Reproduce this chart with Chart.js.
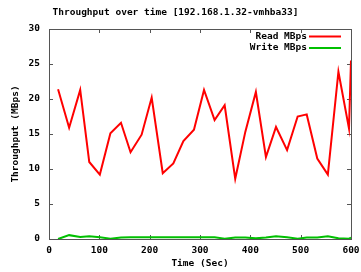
<!DOCTYPE html>
<html>
<head>
<meta charset="utf-8">
<script src="https://cdn.jsdelivr.net/npm/chart.js@4/dist/chart.umd.min.js"></script>
<style>
  html, body { margin: 0; padding: 0; background: #fff; }
  #wrap { width: 361px; height: 272px; }
</style>
</head>
<body>
<div id="wrap"><canvas id="tputChart"></canvas></div>
<script>
// sample times (sec) and throughput values
const times = [18, 40, 62, 80, 101, 122, 143, 162, 184, 204, 226, 247, 267, 288, 308,
               329, 349, 370, 390, 411, 431, 451, 473, 494, 512, 533, 554, 575, 596, 600];
const readMBps = [21.4, 15.9, 21.3, 11.0, 9.2, 15.1, 16.6, 12.4, 14.9, 20.2, 9.4, 10.8, 14.0, 15.6, 21.3,
                  17.0, 19.1, 8.6, 15.3, 21.0, 11.7, 16.0, 12.7, 17.5, 17.8, 11.5, 9.2, 23.9, 15.8, 25.5];
const writeMBps = [0.0, 0.55, 0.3, 0.4, 0.25, 0.05, 0.2, 0.25, 0.25, 0.25, 0.25, 0.25, 0.25, 0.25, 0.25,
                   0.25, 0.05, 0.2, 0.2, 0.1, 0.2, 0.4, 0.25, 0.05, 0.2, 0.2, 0.4, 0.1, 0.05, 0.2];
const seriesNames = ['Read MBps', 'Write MBps'];
const seriesColors = ['#ff0000', '#00c000'];

const FONT = { family: '"DejaVu Sans Mono", monospace', size: 9.5, weight: 'bold', lineHeight: 1.2 };

function toXY(xs, ys) {
    return xs.map((x, i) => ({ x: x, y: ys[i] }));
}

// gnuplot style frame with inward, mirrored ticks
const framePlugin = {
    id: 'frame',
    beforeDatasetsDraw(chart) {
        const { ctx, chartArea: a, scales } = chart;
        ctx.save();
        ctx.strokeStyle = '#555';
        ctx.lineWidth = 1;
        ctx.strokeRect(a.left + 0.5, a.top + 0.5, a.right - a.left, a.bottom - a.top);
        ctx.beginPath();
        scales.x.ticks.forEach(t => {
            const px = Math.round(scales.x.getPixelForValue(t.value)) + 0.5;
            ctx.moveTo(px, a.bottom); ctx.lineTo(px, a.bottom - 4);
            ctx.moveTo(px, a.top); ctx.lineTo(px, a.top + 4);
        });
        scales.y.ticks.forEach(t => {
            const py = Math.round(scales.y.getPixelForValue(t.value)) + 0.5;
            ctx.moveTo(a.left, py); ctx.lineTo(a.left + 4, py);
            ctx.moveTo(a.right, py); ctx.lineTo(a.right - 4, py);
        });
        ctx.stroke();
        ctx.restore();
    }
};

// key in the top right corner: text first, line sample after it
const keyPlugin = {
    id: 'key',
    afterDraw(chart) {
        const { ctx, chartArea: a } = chart;
        ctx.save();
        ctx.font = 'bold 9.5px "DejaVu Sans Mono", monospace';
        ctx.textAlign = 'right';
        ctx.textBaseline = 'middle';
        chart.data.datasets.forEach((ds, i) => {
            const y = a.top + 7.5 + i * 11.5;
            ctx.fillStyle = '#000';
            ctx.fillText(ds.label, a.right - 44, y);
            ctx.strokeStyle = ds.borderColor;
            ctx.lineWidth = 2;
            ctx.beginPath();
            ctx.moveTo(a.right - 42, y);
            ctx.lineTo(a.right - 10, y);
            ctx.stroke();
        });
        ctx.restore();
    }
};

new Chart(document.getElementById('tputChart'), {
    type: 'line',
    data: {
        datasets: [{
            label: seriesNames[0],
            data: toXY(times, readMBps),
            borderColor: seriesColors[0],
            borderWidth: 2,
            pointRadius: 0,
            tension: 0,
            fill: false
        }, {
            label: seriesNames[1],
            data: toXY(times, writeMBps),
            borderColor: seriesColors[1],
            borderWidth: 2,
            pointRadius: 0,
            tension: 0,
            fill: false
        }]
    },
    options: {
        responsive: true,
        maintainAspectRatio: false,
        animation: false,
        layout: { padding: { right: 10 } },
        plugins: {
            legend: { display: false },
            tooltip: { enabled: false },
            title: {
                display: true,
                text: 'Throughput over time [192.168.1.32-vmhba33]',
                color: '#000',
                font: FONT,
                padding: { top: 7, bottom: 10.6 }
            }
        },
        scales: {
            x: {
                type: 'linear',
                min: 0,
                max: 600,
                grid: { display: false, drawTicks: false },
                border: { display: false },
                ticks: { stepSize: 100, color: '#000', font: FONT, padding: 6, maxRotation: 0 },
                title: { display: true, text: 'Time (Sec)', color: '#000', font: FONT, padding: { bottom: 2.3 } },
                afterFit(scale) {
                    scale.height = 33;
                    scale.paddingLeft = 0;
                    scale.paddingRight = 0;
                }
            },
            y: {
                min: 0,
                max: 30,
                grid: { display: false, drawTicks: false },
                border: { display: false },
                ticks: { stepSize: 5, color: '#000', font: FONT, padding: 9 },
                title: { display: true, text: 'Throughput (MBps)', color: '#000', font: FONT, padding: { top: 10 } },
                afterFit(scale) {
                    scale.width = 49;
                    scale.paddingTop = 0;
                    scale.paddingBottom = 0;
                }
            }
        }
    },
    plugins: [framePlugin, keyPlugin]
});
</script>
</body>
</html>
